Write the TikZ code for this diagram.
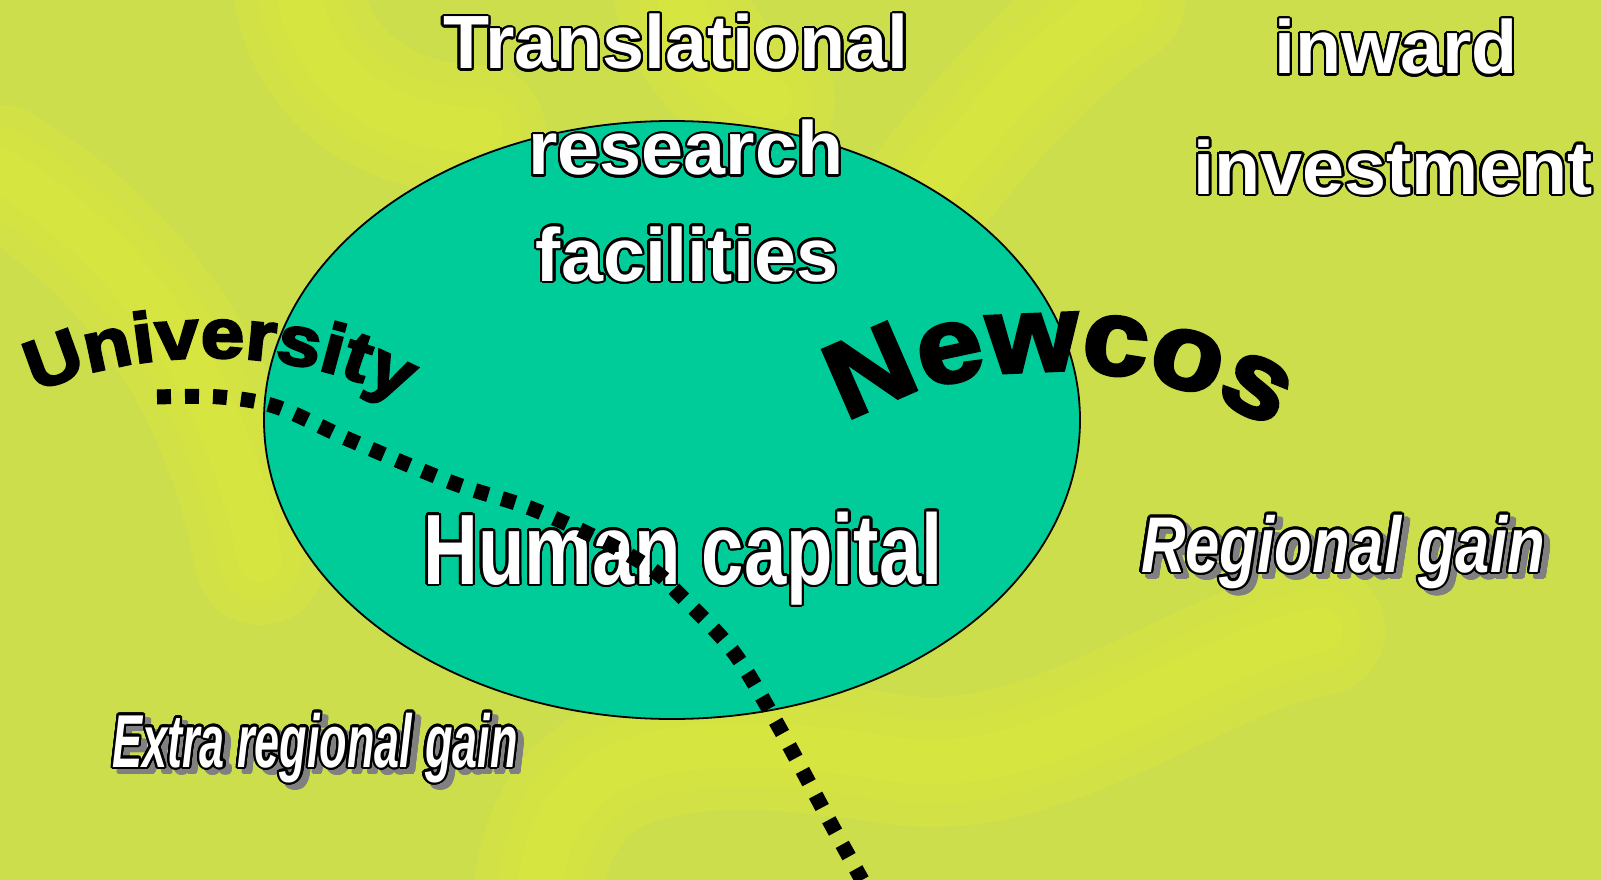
\documentclass[tikz,border=0pt]{standalone}
\usepackage{fontspec}
\setmainfont{Liberation Sans}
\newfontfamily\wideblack{Liberation Sans}[FakeBold=3.5, FakeStretch=1.12]
\newfontfamily\newcoblack{Liberation Sans}[FakeBold=3.5, FakeStretch=1.1]
\newfontfamily\hcfont{Liberation Sans}[FakeStretch=0.76]
\newfontfamily\rgfont{Liberation Sans}[FakeStretch=0.78]
\newfontfamily\erfont{Liberation Sans}[FakeStretch=0.6]
\usepackage[copies]{contour}
\contourlength{2.3pt}
\contournumber{24}
\usetikzlibrary{decorations.text,shapes.geometric}
\definecolor{bgyel}{RGB}{204,222,76}
\definecolor{lightyel}{RGB}{222,235,58}
\definecolor{teal}{RGB}{0,204,153}
\definecolor{shadowgray}{RGB}{128,128,128}
\newcommand\ol[1]{\contour{black}{#1}}
\newcommand\shad[1]{\contour{shadowgray}{#1}}
\newcommand\unifont{\wideblack\bfseries\fontsize{70}{70}\selectfont}
\newcommand\newcofont{\newcoblack\bfseries\fontsize{107}{107}\selectfont}
\tikzset{
  glow/.style={line cap=round, draw=lightyel, line width=#1, opacity=0.28},
  whitetxt/.style={text=white, inner sep=0pt, anchor=base},
  shadtxt/.style={text=shadowgray, inner sep=0pt, anchor=base},
  bigbold/.style={font=\bfseries\fontsize{75.5}{75.5}\selectfont},
  regfont/.style={font=\rgfont\bfseries\itshape\fontsize{79}{79}\selectfont},
  extfont/.style={font=\erfont\bfseries\itshape\fontsize{75}{75}\selectfont},
  dotline/.style={line width=15pt, dash pattern=on 14pt off 14pt, draw=black},
  bubble/.style={fill=teal, draw=black, line width=1.8pt}
}
\begin{document}
\begin{tikzpicture}[x=1pt, y=-1pt]
\useasboundingbox (0,0) rectangle (1601,880);
\fill[bgyel] (0,0) rectangle (1601,880);
% soft light streaks of the background
\begin{scope}
\clip (0,0) rectangle (1601,880);
\foreach \w in {130,85,45}{
  \draw[glow=\w] (0,170) .. controls (150,260) and (230,400) .. (260,560);
  \draw[glow=\w] (300,0) .. controls (320,90) and (400,130) .. (480,130);
  \draw[glow=\w] (680,0) .. controls (700,60) and (740,90) .. (770,100);
  \draw[glow=\w] (930,190) .. controls (1000,100) and (1060,40) .. (1120,0);
  \draw[glow=\w] (540,880) .. controls (560,760) and (650,720) .. (900,760) .. controls (1050,780) and (1200,650) .. (1320,630);
}
\end{scope}
% central ellipse
\node[bubble, ellipse, minimum width=816pt, minimum height=598pt, inner sep=0pt] (bub) at (672,420) {};
% white outlined labels
\node[whitetxt, bigbold] (trans) at (676,69) {\ol{Translational}};
\node[whitetxt, bigbold] (res) at (686,175) {\ol{research}};
\node[whitetxt, bigbold] (fac) at (687,281) {\ol{facilities}};
\node[whitetxt, bigbold] (inw) at (1396,74) {\ol{inward}};
\node[whitetxt, bigbold] (inv) at (1393,194) {\ol{investment}};
\node[whitetxt, font=\hcfont\bfseries\fontsize{100}{100}\selectfont] (hum) at (683,584) {\ol{Human capital}};
% shadowed italic labels
\node[shadtxt, regfont] (regs) at (1349,577) {\shad{Regional gain}};
\node[whitetxt, regfont] (reg) at (1343,572) {\ol{Regional gain}};
\node[shadtxt, extfont] (exts) at (321,772) {\shad{Extra regional gain}};
\node[whitetxt, extfont] (ext) at (315,767) {\ol{Extra regional gain}};
% curved black words
\path[decorate, decoration={text along path, text={|\unifont|University}, text align=center}]
  (25,398) .. controls (125,345) and (305,340) .. (412,408);
\path[decorate, decoration={text along path, text={|\newcofont|Newcos}, text align=center}]
  (846,424) .. controls (950,357) and (1150,347) .. (1272,430);
% dotted trail
\draw[dotline] plot[smooth, tension=0.55] coordinates {(157,397) (220,397) (277,407) (350,440) (453,483) (530,508) (605,542) (653,570) (680,595) (732,650) (775,720) (830,822) (862,880)};
\end{tikzpicture}
\end{document}
